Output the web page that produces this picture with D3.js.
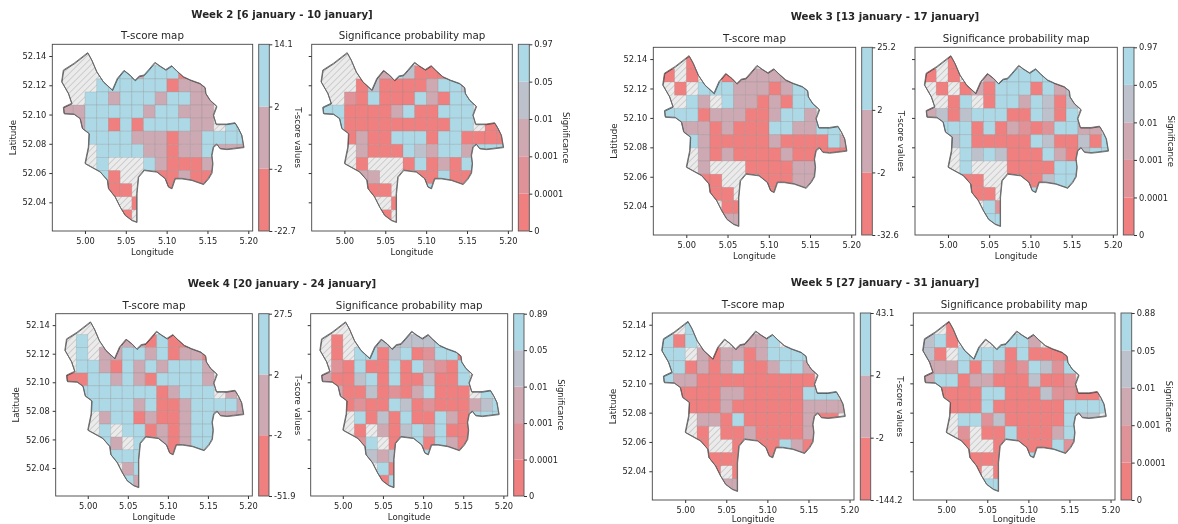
<!DOCTYPE html>
<html>
<head>
<meta charset="utf-8">
<script src="https://d3js.org/d3.v7.min.js"></script>
<style>
body { margin: 0; background: #fff; }
svg { display: block; filter: blur(0.35px); }
text { font-family: "DejaVu Sans", sans-serif; fill: #262626; }
</style>
</head>
<body>
<script>
// district outline, lon / lat
var boundary = [[5.0033,52.1423],[5.0082,52.1373],[5.0143,52.1293],[5.0224,52.1225],[5.0335,52.1168],[5.0396,52.1247],[5.0478,52.1302],
[5.0551,52.1270],[5.0612,52.1234],[5.0665,52.1263],[5.0722,52.1270],[5.0776,52.1304],[5.0857,52.1357],[5.0918,52.1332],[5.0988,52.1307],
[5.1061,52.1334],[5.1122,52.1300],[5.1204,52.1259],[5.1294,52.1236],[5.1408,52.1213],[5.1469,52.1186],[5.1478,52.1145],[5.1531,52.1099],
[5.1612,52.1058],[5.1571,52.0997],[5.1604,52.0935],[5.1735,52.0935],[5.1837,52.0944],[5.1878,52.0906],[5.1918,52.0860],[5.1943,52.0778],
[5.1816,52.0769],[5.1735,52.0764],[5.1653,52.0769],[5.1612,52.0799],[5.1571,52.0780],[5.1551,52.0723],[5.1563,52.0667],[5.1551,52.0603],
[5.1510,52.0564],[5.1449,52.0525],[5.1306,52.0553],[5.1184,52.0564],[5.1102,52.0564],[5.1061,52.0496],[5.1020,52.0507],[5.0980,52.0564],
[5.0878,52.0610],[5.0722,52.0621],[5.0653,52.0575],[5.0633,52.0462],[5.0633,52.0266],[5.0571,52.0279],[5.0490,52.0313],[5.0429,52.0370],
[5.0367,52.0439],[5.0286,52.0496],[5.0273,52.0553],[5.0184,52.0610],[5.0000,52.0667],[5.0041,52.0778],[5.0049,52.0872],[4.9967,52.0906],
[4.9939,52.0974],[4.9865,52.1004],[4.9743,52.1008],[4.9735,52.1050],[4.9837,52.1077],[4.9796,52.1145],[4.9714,52.1225],[4.9735,52.1304],
[4.9865,52.1350],[5.0033,52.1423]];

// grid of the map cells
var lonStart = 4.9714, lonStep = 0.01433;
var latStart = 52.1423, latStep = 0.00895;

// r = lowest band ... b = highest band, h = no data (hatched), . = no cell
var tBands = ["r", "m", "b"];
var sigBands = ["r", "p", "m", "s", "b"];
var tColors = ["#f08080", "#cda9b3", "#add8e6"];
var sigColors = ["#f08080", "#df9398", "#cea9b1", "#bdc1cb", "#add8e6"];

var week2T = [".hh.............","hhh.bbmbbbr.....","hhhbbbbbbrmmm...","hhbbmbbbmbbmm...","mmbbbbbmbbmmm...",".mbbrbrbbbbmmhbb",
"..bbbbmmmrmmbbbb","..hbbbbmmrmmbmmm","..hbhhhbmrrrm...","...brhh.rrmrr...","....rrh..r......","....hhr.........",".....rh........."];
var week2Sig = [".hh.............","hhh.smbsrrr.....","hhhrsrrrrmbbs...","hhprbrrrbmrbb...","bbrrrrmbrrbbb...",".brrrrrrrrrbbhrr",
"..rmrrbbbrbbrrrr","..hmrrrbsmbbmbbb","..hrhhhrbrmrb...","...mmhh.rrbrr...","....rrh..b......","....hhr.........",".....rh........."];
var week3T = [".hr.............","rhr..rmmmmm.....","hrhbbbmmmrmbb...","hhbmhbmmrmrbb...","bbbrmmmrrmbbm...",".mmmrmrrrbbmmbb.",
"..bmrrrrrmrrrrbm","..hmrmrrrrmrrrrr","..hmhhhrrrrmm...","...rrhh.rrrmm...","....rrh..r......","....hrr.........",".....mm........."];
var week3Sig = [".hr.............","rhr..mbbbbb.....","hrhrmrbbbrbms...","hhrbhrbbmbsrs...","msrsbbbrrbsrb...",".bbbrbrmprpbbmm.",
"..sbrrrrrbsrrsrb","..hbsbsrrrbmrsbb","..hbhhhrrrrbb...","...rrhh.rrsbb...","....rrh..b......",".....bp.........",".....bb........."];
var week4T = [".hh.............","hbh..mmrbrr.....","hbhmmbbmbrmmr...","hbbmrbmbmbbbm...","rrbbmbmrbbbbm...",".bbbbbbbrmbbbhm.",
"..bbbbmbrrmbbbbm","..hmbbrmrrmbbmmm","..hbhbbrmrmbb...","...bmhb.mrmbb...","....bbb..r......",".....mb.........",".....bm........."];
var week4Sig = [".hh.............","hrh.ssssssb.....","hrhbbrsbrpbbr...","hprbrrbrbmprb...","mrrsbrbrrsrrb...",".mrrsrprmbrrrhb.",
"..rprrbsrprrrmsb","..hbrsrbrrbmrbbb","..hrhmrsbmbrr...","...pbhr.brbmr...","....sms..b......","....hbr.........",".....rb........."];
var week5T = [".hb.............","brb..hmmmbh.....","bbhmrmmrmbbbb...","bbrmrmbrrmbbm...","bmmrrrrrrrrrr...",".rrrrmmrrrrrbbb.",
"..rrrmrrrrrrmmmm","..hmmrbrrrrrmrrh","..hrhrrmrrrrm...","...rhhr.rrbmr...","....rrr..r......","....rhr.........",".....mm........."];
var week5Sig = [".hr.............","sbr..hbbbmh.....","srhbbbbrbrrrr...","mmmbrbmrpbspb...","mbbrmmrrrsrrp...",".rrrrbbrrrspprr.",
"..rrrbrrrrrrbbbb","..hbbpsrrrrrbssh","..hphrrbrrrmb...","...rhhr.rrrbp...","....rrr..b......","....rhr.........",".....bb........."];

var week2TTicks = ["-22.7", "-2", "2", "14.1"];
var week3TTicks = ["-32.6", "-2", "2", "25.2"];
var week4TTicks = ["-51.9", "-2", "2", "27.5"];
var week5TTicks = ["-144.2", "-2", "2", "43.1"];
var week2SigTicks = ["0", "0.0001", "0.001", "0.01", "0.05", "0.97"];
var week3SigTicks = ["0", "0.0001", "0.001", "0.01", "0.05", "0.97"];
var week4SigTicks = ["0", "0.0001", "0.001", "0.01", "0.05", "0.89"];
var week5SigTicks = ["0", "0.0001", "0.001", "0.01", "0.05", "0.88"];

var lonTicks = [5.00, 5.05, 5.10, 5.15, 5.20];
var latTicks = [52.04, 52.06, 52.08, 52.10, 52.12, 52.14];

var svg = d3.select("body").append("svg")
  .attr("width", 1178)
  .attr("height", 524);

var defs = svg.append("defs");
var hatch = defs.append("pattern")
  .attr("id", "hatch")
  .attr("patternUnits", "userSpaceOnUse")
  .attr("width", 4.6)
  .attr("height", 4.6)
  .attr("patternTransform", "rotate(45)");
hatch.append("rect").attr("width", 4.6).attr("height", 4.6).attr("fill", "#ebebeb");
hatch.append("line").attr("x1", 0).attr("x2", 0).attr("y1", 0).attr("y2", 4.6)
  .attr("stroke", "#bdbdbd").attr("stroke-width", 1.3);

var clipCount = 0;

function drawPanel(box, title, rows, bands, colors, ticks, barLabel, labelOffset, showLat) {
  var g = svg.append("g").attr("transform", "translate(" + box.left + "," + box.top + ")");

  var x = d3.scaleLinear().domain([4.96, 5.2054]).range([0, box.width]);
  var y = d3.scaleLinear().domain([52.0204, 52.148]).range([box.height, 0]);

  var line = d3.line()
    .x(function(d) { return x(d[0]); })
    .y(function(d) { return y(d[1]); });

  clipCount++;
  var clipId = "clip" + clipCount;
  defs.append("clipPath").attr("id", clipId).append("path").attr("d", line(boundary));

  g.append("path")
    .attr("d", line(boundary))
    .attr("fill", "url(#hatch)");

  // one rect per coloured cell, no-data cells keep the hatch from below
  var cells = [];
  rows.forEach(function(row, r) {
    row.split("").forEach(function(code, c) {
      if (code !== "." && code !== "h") cells.push({ r: r, c: c, code: code });
    });
  });

  var color = d3.scaleOrdinal().domain(bands).range(colors);

  g.append("g")
    .attr("clip-path", "url(#" + clipId + ")")
    .selectAll("rect")
    .data(cells)
    .enter().append("rect")
    .attr("x", function(d) { return x(lonStart + d.c * lonStep); })
    .attr("y", function(d) { return y(latStart - d.r * latStep); })
    .attr("width", function(d) { return x(lonStart + (d.c + 1) * lonStep) - x(lonStart + d.c * lonStep); })
    .attr("height", function(d) { return y(latStart - (d.r + 1) * latStep) - y(latStart - d.r * latStep); })
    .attr("fill", function(d) { return color(d.code); })
    .attr("stroke", "#7f7f7f")
    .attr("stroke-opacity", 0.25)
    .attr("stroke-width", 0.8);

  // soft dark edge offset under the outline
  g.append("path")
    .attr("d", line(boundary))
    .attr("transform", "translate(0.4,0.6)")
    .attr("fill", "none")
    .attr("stroke", "#222")
    .attr("stroke-opacity", 0.7)
    .attr("stroke-width", 0.9);

  g.append("path")
    .attr("d", line(boundary))
    .attr("fill", "none")
    .attr("stroke", "#666")
    .attr("stroke-width", 0.9);

  var xAxis = d3.axisBottom(x).tickValues(lonTicks).tickFormat(d3.format(".2f")).tickSize(3);
  var yAxis = d3.axisLeft(y).tickValues(latTicks).tickFormat(showLat ? d3.format(".2f") : "").tickSize(3);

  var gx = g.append("g").attr("transform", "translate(0," + box.height + ")").call(xAxis);
  var gy = g.append("g").call(yAxis);
  [gx, gy].forEach(function(a) {
    a.select(".domain").remove();
    a.selectAll("text").style("font-size", "8.3px").attr("fill", "#262626");
    a.selectAll("line").attr("stroke", "#333");
  });
  gx.selectAll("text").attr("dy", "0.9em");

  g.append("rect")
    .attr("width", box.width)
    .attr("height", box.height)
    .attr("fill", "none")
    .attr("stroke", "#444")
    .attr("stroke-width", 0.9);

  g.append("text")
    .attr("x", box.width / 2)
    .attr("y", -5)
    .attr("text-anchor", "middle")
    .style("font-size", "10.3px")
    .text(title);

  g.append("text")
    .attr("x", box.width / 2)
    .attr("y", box.height + (box.xLabel || 24))
    .attr("text-anchor", "middle")
    .style("font-size", "8.6px")
    .text("Longitude");

  if (showLat) {
    g.append("text")
      .attr("transform", "translate(-36.5," + (box.height / 2) + ") rotate(-90)")
      .attr("text-anchor", "middle")
      .style("font-size", "8.6px")
      .text("Latitude");
  }

  // colour bar with equally spaced segments
  var bar = g.append("g").attr("transform", "translate(" + (box.barLeft - box.left) + ",0)");
  var barScale = d3.scalePoint().domain(ticks).range([box.height, 0]);

  bar.selectAll("rect.seg")
    .data(bands)
    .enter().append("rect")
    .attr("class", "seg")
    .attr("x", 0)
    .attr("width", box.barWidth)
    .attr("y", function(d, i) { return barScale(ticks[i + 1]); })
    .attr("height", function(d, i) { return barScale(ticks[i]) - barScale(ticks[i + 1]); })
    .attr("fill", function(d) { return color(d); });

  bar.append("rect")
    .attr("width", box.barWidth)
    .attr("height", box.height)
    .attr("fill", "none")
    .attr("stroke", "#555")
    .attr("stroke-width", 0.9);

  var barAxis = bar.append("g")
    .attr("transform", "translate(" + box.barWidth + ",0)")
    .call(d3.axisRight(barScale).tickSize(3).tickPadding(2));
  barAxis.select(".domain").remove();
  barAxis.selectAll("text").style("font-size", "8.3px").attr("fill", "#262626");
  barAxis.selectAll("line").attr("stroke", "#333");

  bar.append("text")
    .attr("transform", "translate(" + (box.barWidth + labelOffset) + "," + (box.height / 2) + ") rotate(90)")
    .attr("text-anchor", "middle")
    .style("font-size", "8.5px")
    .text(barLabel);
}

function weekTitle(text, cx, cy) {
  svg.append("text")
    .attr("x", cx)
    .attr("y", cy)
    .attr("text-anchor", "middle")
    .style("font-size", "10.2px")
    .style("font-weight", "bold")
    .text(text);
}

weekTitle("Week 2 [6 january - 10 january]", 282, 18);
weekTitle("Week 3 [13 january - 17 january]", 885, 20);
weekTitle("Week 4 [20 january - 24 january]", 282, 287);
weekTitle("Week 5 [27 january - 31 january]", 885, 286);

drawPanel({ left: 52.3, top: 44.3, width: 200.4, height: 186.7, barLeft: 258.7, barWidth: 10.6 },
  "T-score map", week2T, tBands, tColors, week2TTicks, "T-score values", 26, true);
drawPanel({ left: 311.7, top: 44.3, width: 200.6, height: 186.7, barLeft: 518.3, barWidth: 11 },
  "Significance probability map", week2Sig, sigBands, sigColors, week2SigTicks, "Significance", 34, false);

drawPanel({ left: 653.3, top: 47.3, width: 202.4, height: 187.7, barLeft: 861.7, barWidth: 10.6 },
  "T-score map", week3T, tBands, tColors, week3TTicks, "T-score values", 26, true);
drawPanel({ left: 915, top: 47.3, width: 202.3, height: 187.7, barLeft: 1123.3, barWidth: 10.7 },
  "Significance probability map", week3Sig, sigBands, sigColors, week3SigTicks, "Significance", 34, false);

drawPanel({ left: 55.7, top: 313.7, width: 196.6, height: 182.3, barLeft: 258.7, barWidth: 10.3 },
  "T-score map", week4T, tBands, tColors, week4TTicks, "T-score values", 26, true);
drawPanel({ left: 310.7, top: 313.7, width: 197, height: 182.3, barLeft: 513.7, barWidth: 10.3 },
  "Significance probability map", week4Sig, sigBands, sigColors, week4SigTicks, "Significance", 34, false);

// bottom row right pair sits at the page edge, keep the x label inside it
drawPanel({ left: 652.3, top: 313, width: 201.7, height: 187, barLeft: 860.3, barWidth: 10.4, xLabel: 21.5 },
  "T-score map", week5T, tBands, tColors, week5TTicks, "T-score values", 26, true);
drawPanel({ left: 913.3, top: 313, width: 201.7, height: 187, barLeft: 1121, barWidth: 10.7, xLabel: 21.5 },
  "Significance probability map", week5Sig, sigBands, sigColors, week5SigTicks, "Significance", 34, false);
</script>
</body>
</html>
